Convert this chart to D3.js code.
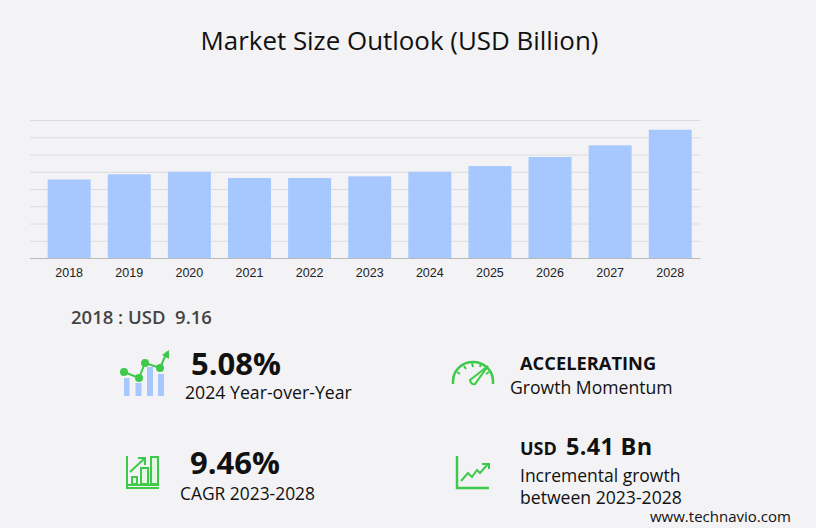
<!DOCTYPE html>
<html>
<head>
<meta charset="utf-8">
<script src="https://cdn.jsdelivr.net/npm/d3@7"></script>
<style>
  html, body { margin: 0; padding: 0; background: #f3f3f5; }
  svg { display: block; }
  .ui { font-family: "Open Sans", "Noto Sans", sans-serif; fill: #111; }
  .grid line { stroke: #dcdcde; stroke-width: 1px; }
  .x-axis text { font-family: "Liberation Sans", Arial, sans-serif; font-size: 12.5px; fill: #222; }
  .icon { fill: none; stroke: #3ec94a; stroke-width: 2px; }
</style>
</head>
<body>
<div id="chart"></div>
<script>
const years = ["2018", "2019", "2020", "2021", "2022", "2023", "2024", "2025", "2026", "2027", "2028"];
const marketSize = [9.16, 9.76, 10.06, 9.33, 9.33, 9.53, 10.06, 10.72, 11.77, 13.12, 14.93];
const gridTicks = [2, 4, 6, 8, 10, 12, 14, 16];

let width = 816,
  height = 528;

const svg = d3
  .select("#chart")
  .append("svg")
  .attr("width", width)
  .attr("height", height)
  .attr("viewBox", [0, 0, width, height]);

let x = d3
  .scaleBand()
  .domain(years)
  .range([39.1, 700.3])
  .paddingInner(0.285)
  .paddingOuter(0.1425);

let y = d3.scaleLinear().domain([0, 16]).range([258.5, 120.5]);

svg
  .append("text")
  .attr("class", "ui")
  .attr("x", 399.5)
  .attr("y", 50)
  .attr("text-anchor", "middle")
  .style("font-size", "25.9px")
  .text("Market Size Outlook (USD Billion)");

// gridlines first, they run a bit further left than the bars
svg
  .append("g")
  .attr("class", "grid")
  .selectAll("line")
  .data(gridTicks)
  .join("line")
  .attr("x1", 30)
  .attr("x2", 700.5)
  .attr("y1", (d) => y(d))
  .attr("y2", (d) => y(d));

svg
  .append("g")
  .selectAll("rect")
  .data(marketSize)
  .join("rect")
  .attr("x", (d, i) => x(years[i]))
  .attr("y", (d) => y(d))
  .attr("width", x.bandwidth())
  .attr("height", (d) => y(0) - y(d))
  .attr("fill", "#a6c8ff");

let xAxis = svg
  .append("g")
  .attr("class", "x-axis")
  .attr("transform", `translate(0,${y(0)})`)
  .call(d3.axisBottom(x).tickSize(0).tickPadding(9.5));
xAxis.select(".domain").remove();
xAxis
  .append("line")
  .attr("x1", 30)
  .attr("x2", 700.5)
  .attr("stroke", "#b9b9bb");

function label(txt, px, py, size, weight, anchor) {
  return svg
    .append("text")
    .attr("class", "ui")
    .attr("x", px)
    .attr("y", py)
    .attr("text-anchor", anchor || "start")
    .style("font-size", size + "px")
    .style("font-weight", weight || 400)
    .text(txt);
}

label("2018 : USD  9.16", 71, 324, 18.5, 600).style("fill", "#444").attr("xml:space", "preserve");

label("5.08%", 191, 375, 31, 700);
label("2024 Year-over-Year", 185, 399, 17.7);
label("9.46%", 190, 474, 31, 700);
label("CAGR 2023-2028", 180, 500, 17.4);
label("ACCELERATING", 520, 370, 18.3, 700);
label("Growth Momentum", 510, 394, 17.6);
label("Incremental growth", 520, 482, 17.5);
label("between 2023-2028", 520, 504, 17.6);
label("www.technavio.com", 650, 522, 15);

label("USD", 520, 455, 18, 700);
label("5.41 Bn", 566, 455, 23.5, 700).style("letter-spacing", "0.3px");

// icons, drawn in page pixels
let bars = svg.append("g").attr("fill", "#a6c8ff");
[[124, 378, 5.5, 18], [135.5, 383, 6, 13], [147, 367, 6, 29], [158, 374, 6, 22]].forEach((b) =>
  bars.append("rect").attr("x", b[0]).attr("y", b[1]).attr("width", b[2]).attr("height", b[3])
);
svg
  .append("path")
  .attr("class", "icon")
  .attr("d", "M124 372L139 378L145 363L160 368L167 352");
svg
  .append("g")
  .attr("fill", "#3ec94a")
  .selectAll("circle")
  .data([[124, 372], [139, 378], [145, 363], [160, 368]])
  .join("circle")
  .attr("cx", (d) => d[0])
  .attr("cy", (d) => d[1])
  .attr("r", 4);
svg.append("path").attr("fill", "#3ec94a").attr("d", "M162 355L169 350L169 359Z");

// gauge
svg.append("path").attr("class", "icon").style("stroke-width", "2.5px").attr("d", "M453 384V381A20 19 0 0 1 493 381V384");
svg.append("path").attr("class", "icon")
  .attr("d", "M457 372L460 374M464 366L466 369M472 363L473 367M481 363L480 367M489 372L486 374");
svg.append("path").attr("class", "icon").style("fill", "#e6f8e6")
  .attr("d", "M470 380L488 366L475 384Q471 385 470 380Z");

// cagr
svg.selectAll(".cagr-bar")
  .data([[132, 477, 5, 7], [141, 468, 7, 16], [151, 457, 7, 27]])
  .join("rect")
  .attr("class", "icon")
  .style("fill", "#e6f8e6")
  .attr("x", (d) => d[0])
  .attr("y", (d) => d[1])
  .attr("width", (d) => d[2])
  .attr("height", (d) => d[3]);
svg.append("path").attr("class", "icon")
  .attr("d", "M127 456V488H159M127 485H159M130 472L145 458M138 458H145V465");

// incremental
svg.append("path").attr("class", "icon").style("stroke-width", "2.5px")
  .attr("d", "M457 456V488H489");
svg.append("path").attr("class", "icon")
  .attr("d", "M461 481L468 473L472 477L477 470L480 473L488 464M482 464H489V469");
</script>
</body>
</html>
